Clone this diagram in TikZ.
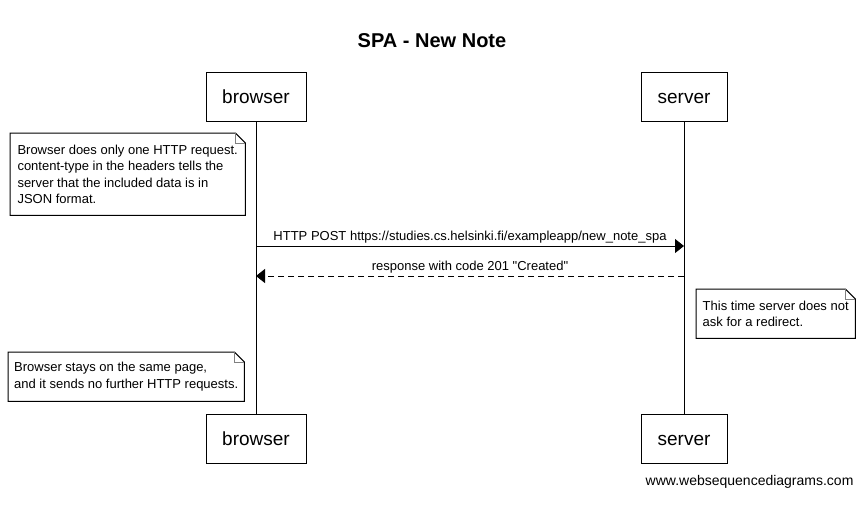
\documentclass[tikz,border=0pt]{standalone}
\usepackage{fontspec}
\setmainfont{Liberation Sans}
\newfontfamily\plainfont{Liberation Sans}
\usetikzlibrary{positioning,calc,arrows.meta}

\tikzset{
	actor/.style={draw,line width=1pt,minimum height=49pt,inner sep=0pt,text height=16pt,text depth=2pt,font=\fontsize{19}{22}\selectfont},
	note/.style={anchor=north west,inner xsep=6pt,inner ysep=0pt,align=left,font=\fontsize{13}{16.3}\selectfont},
	msg/.style={line width=1pt,-{Triangle[length=9pt,width=14pt]}},
	lbl/.style={above,inner sep=2pt,font=\plainfont\fontsize{13}{16}\selectfont}
}

\begin{document}
\begin{tikzpicture}[x=1pt,y=-1pt]
	
		\useasboundingbox (0,0) rectangle (864,506);
		
		\node[font=\bfseries\fontsize{20}{24}\selectfont] (title) at (432,41) {SPA - New Note};
		
		\node[actor,minimum width=100pt] (btop) at (256,96.5) {browser};
		\node[actor,minimum width=86pt] (stop) at (684,96.5) {server};
		\node[actor,minimum width=100pt] (bbot) at (256,438.5) {browser};
		\node[actor,minimum width=86pt] (sbot) at (684,438.5) {server};
		
		\draw[line width=1pt] (btop) -- (bbot);
		\draw[line width=1pt] (stop) -- (sbot);
		
		\node[note,minimum width=235pt,minimum height=82pt] (n1) at (10,133) {Browser does only one HTTP request.\\content-type in the headers tells the\\server that the included data is in\\JSON format.};
		\node[note,minimum width=159pt,minimum height=49pt] (n2) at (696,289) {This time server does not\\ask for a redirect.};
		\node[note,minimum width=236pt,minimum height=49pt] (n3) at (8,352) {Browser stays on the same page,\\and it sends no further HTTP requests.};
		
		\foreach \n in {n1,n2,n3}
		{
			\draw[line width=1pt] (\n.north west) -- ($(\n.north east)+(-10,0)$) -- ($(\n.north east)+(0,10)$) -- (\n.south east) -- (\n.south west) -- cycle;
			\draw[gray] ($(\n.north east)+(-10,0)$) -- ($(\n.north east)+(-10,10)$) -- ($(\n.north east)+(0,10)$);
		}
		
		\coordinate (bpost) at (256,246);
		\coordinate (spost) at (684,246);
		\coordinate (sresp) at (684,276);
		\coordinate (bresp) at (256,276);
		
		\draw[msg] (bpost) -- node[lbl] {HTTP POST https://studies.cs.helsinki.fi/exampleapp/new\_note\_spa} (spost);
		\draw[msg,dash pattern=on 6pt off 4pt] (sresp) -- node[lbl] {response with code 201 "Created"} (bresp);
		
		\node[anchor=east,font=\fontsize{14}{16}\selectfont] (wsd) at (857,482) {www.websequencediagrams.com};
		
\end{tikzpicture}
\end{document}
